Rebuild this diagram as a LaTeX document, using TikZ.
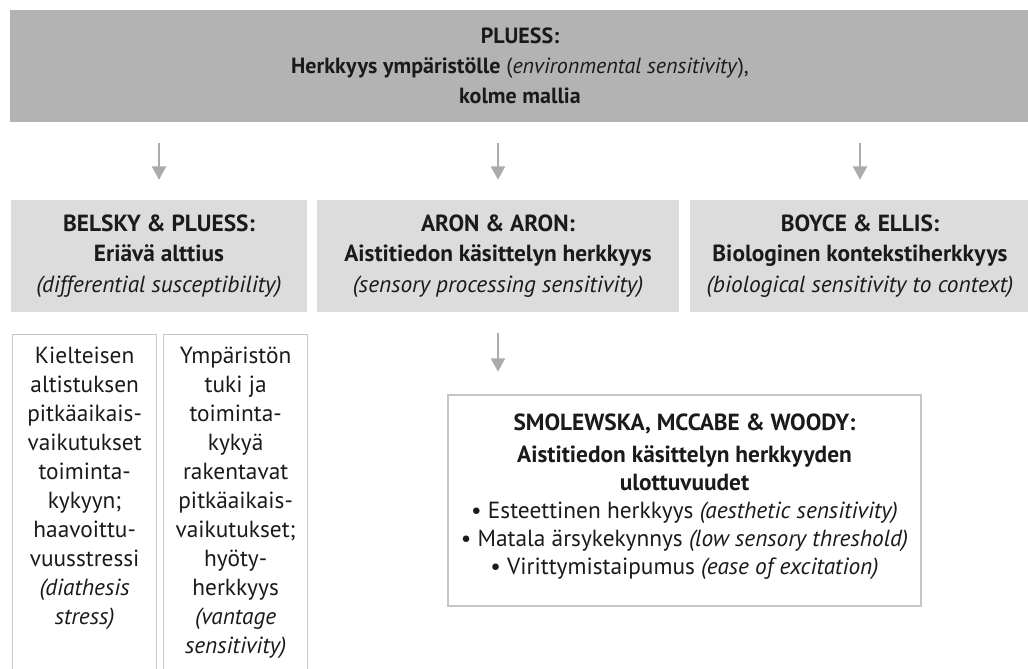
\documentclass[tikz,border=0pt]{standalone}
\usepackage{fontspec}
\setmainfont{PT Sans}
\usetikzlibrary{arrows.meta}

\definecolor{topgray}{HTML}{B3B3B3}
\definecolor{boxgray}{HTML}{DCDCDC}
\definecolor{arrowgray}{HTML}{ABABAB}
\definecolor{framegray}{HTML}{C6C6C6}
\definecolor{inkblack}{HTML}{1A1A1A}

\tikzset{
  topbox/.style={fill=topgray, minimum width=765pt, minimum height=84pt,
    align=center, text=inkblack, font=\fontsize{16.5}{22.5}\selectfont},
  modelbox/.style={fill=boxgray, minimum height=84pt, align=center,
    text=inkblack, font=\fontsize{17.5}{23}\selectfont},
  sidebox/.style={draw=framegray, line width=1pt, anchor=north west,
    minimum width=108pt, minimum height=254pt},
  sidetext/.style={anchor=north, align=center, text=inkblack,
    font=\fontsize{17.5}{21.8}\selectfont},
  dimbox/.style={draw=framegray, line width=1pt, fill=white,
    minimum width=354.75pt, minimum height=158.25pt},
  dimtext/.style={align=center, text=inkblack,
    font=\fontsize{17.5}{21}\selectfont},
  downarrow/.style={draw=arrowgray, line width=1.5pt,
    -{Triangle[width=10.5pt,length=10pt]}}
}

\begin{document}
\begin{tikzpicture}[x=0.75pt,y=-0.75pt]
  \useasboundingbox (0,0) rectangle (1028,668);

  % ylin taso
  \node[topbox] (pluess) at (520,66)
    {\textbf{PLUESS:}\\
     \textbf{Herkkyys ympäristölle} (\textit{environmental sensitivity}),\\
     \textbf{kolme mallia}};

  % kolme mallia
  \node[modelbox, minimum width=222pt] (belsky) at (159,256)
    {\textbf{BELSKY \& PLUESS:}\\
     \textbf{Eriävä alttius}\\
     \textit{(differential susceptibility)}};
  \node[modelbox, minimum width=271.5pt] (aron) at (498,256)
    {\textbf{ARON \& ARON:}\\
     \textbf{Aistitiedon käsittelyn herkkyys}\\
     \textit{(sensory processing sensitivity)}};
  \node[modelbox, minimum width=255pt] (boyce) at (860,256)
    {\textbf{BOYCE \& ELLIS:}\\
     \textbf{Biologinen kontekstiherkkyys}\\
     \textit{(biological sensitivity to context)}};

  % alttiuden kaksi suuntaa
  \node[sidebox] (diathesis) at (12,334) {};
  \node[sidetext] (diathesistext) at ([yshift=-6pt]diathesis.north)
    {Kielteisen\\ altistuksen\\ pitkäaikais-\\ vaikutukset\\ toiminta-\\
     kykyyn;\\ haavoittu-\\ vuusstressi\\ \textit{(diathesis}\\ \textit{stress)}};
  \node[sidebox] (vantage) at (163,334) {};
  \node[sidetext] (vantagetext) at ([yshift=-6pt]vantage.north)
    {Ympäristön\\ tuki ja\\ toiminta-\\ kykyä\\ rakentavat\\ pitkäaikais-\\
     vaikutukset;\\ hyöty-\\ herkkyys\\ \textit{(vantage}\\ \textit{sensitivity)}};

  % ulottuvuudet
  \node[dimbox] (smolewska) at (684.5,500.5) {};
  \node[dimtext] (smolewskatext) at ([yshift=3pt]smolewska.center)
    {\textbf{SMOLEWSKA, MCCABE \& WOODY:}\\[3pt]
     \textbf{Aistitiedon käsittelyn herkkyyden}\\
     \textbf{ulottuvuudet}\\
     \textbullet\ Esteettinen herkkyys \textit{(aesthetic sensitivity)}\\
     \textbullet\ Matala ärsykekynnys \textit{(low sensory threshold)}\\
     \textbullet\ Virittymistaipumus \textit{(ease of excitation)}};

  % nuolet
  \draw[downarrow, shorten <=15.75pt, shorten >=15pt]
    (pluess.south -| belsky.north) -- (belsky.north);
  \draw[downarrow, shorten <=15.75pt, shorten >=15pt]
    (pluess.south -| aron.north) -- (aron.north);
  \draw[downarrow, shorten <=15.75pt, shorten >=15pt]
    (pluess.south -| boyce.north) -- (boyce.north);
  \draw[downarrow, shorten <=15.75pt, shorten >=17pt]
    (aron.south) -- (aron.south |- smolewska.north);
\end{tikzpicture}
\end{document}
